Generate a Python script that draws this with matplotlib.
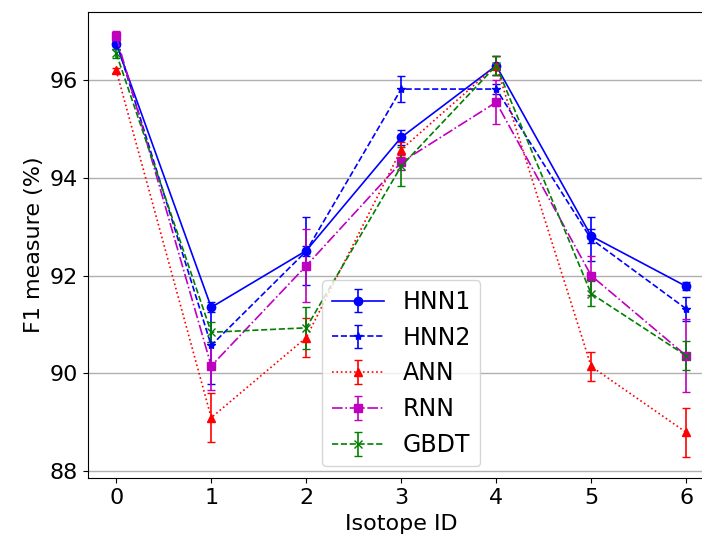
import numpy as np
import matplotlib
matplotlib.use("Agg")
import matplotlib.pyplot as plt

isotope_ids = [0, 1, 2, 3, 4, 5, 6]

hnn1 = [96.75, 91.35, 92.51, 94.83, 96.30, 92.81, 91.78]
hnn1_err = [0.10, 0.10, 0.10, 0.15, 0.20, 0.15, 0.08]

hnn2 = [96.80, 90.57, 92.50, 95.82, 95.82, 92.75, 91.32]
hnn2_err = [0.10, 0.80, 0.70, 0.27, 0.10, 0.45, 0.25]

ann = [96.20, 89.09, 90.73, 94.58, 96.30, 90.14, 88.79]
ann_err = [0.05, 0.50, 0.40, 0.15, 0.20, 0.30, 0.50]

rnn = [96.90, 90.15, 92.20, 94.32, 95.55, 92.00, 90.36]
rnn_err = [0.10, 0.50, 0.75, 0.15, 0.45, 0.40, 0.75]

gbdt = [96.55, 90.84, 90.93, 94.24, 96.30, 91.63, 90.36]
gbdt_err = [0.10, 0.20, 0.43, 0.40, 0.20, 0.25, 0.30]

labels = ["HNN1", "HNN2", "ANN", "RNN", "GBDT"]

plt.rcParams['font.family'] = ['DejaVu Sans']
fig = plt.figure(figsize=(7.02, 5.41), dpi=100)
ax = fig.add_axes([0.125, 0.116, 0.893, 0.862])

ax.grid(axis='y', color='#b0b0b0', lw=1)
ax.set_axisbelow(True)

kw = dict(capsize=3, lw=1.2, elinewidth=1.2)
ax.errorbar(isotope_ids, hnn1, yerr=hnn1_err, fmt='b-o', ms=6, label=labels[0], **kw)
ax.errorbar(isotope_ids, hnn2, yerr=hnn2_err, fmt='b--*', ms=6, label=labels[1], **kw)
ax.errorbar(isotope_ids, ann, yerr=ann_err, fmt='r:^', ms=6, label=labels[2], **kw)
ax.errorbar(isotope_ids, rnn, yerr=rnn_err, fmt='m-.s', ms=6, label=labels[3], **kw)
ax.errorbar(isotope_ids, gbdt, yerr=gbdt_err, fmt='g--x', ms=6, label=labels[4], **kw)

ax.set_xlim(-0.3, 6.3)
ax.set_ylim(87.85, 97.4)
ax.set_yticks([88, 90, 92, 94, 96])
ax.set_xticks(isotope_ids)
ax.tick_params(labelsize=16)
ax.set_xlabel("Isotope ID", fontsize=16)
ax.set_ylabel("F1 measure (%)", fontsize=16)
ax.legend(loc='lower center', fontsize=17, handlelength=2.2)

fig.savefig("out.png", dpi=100)
